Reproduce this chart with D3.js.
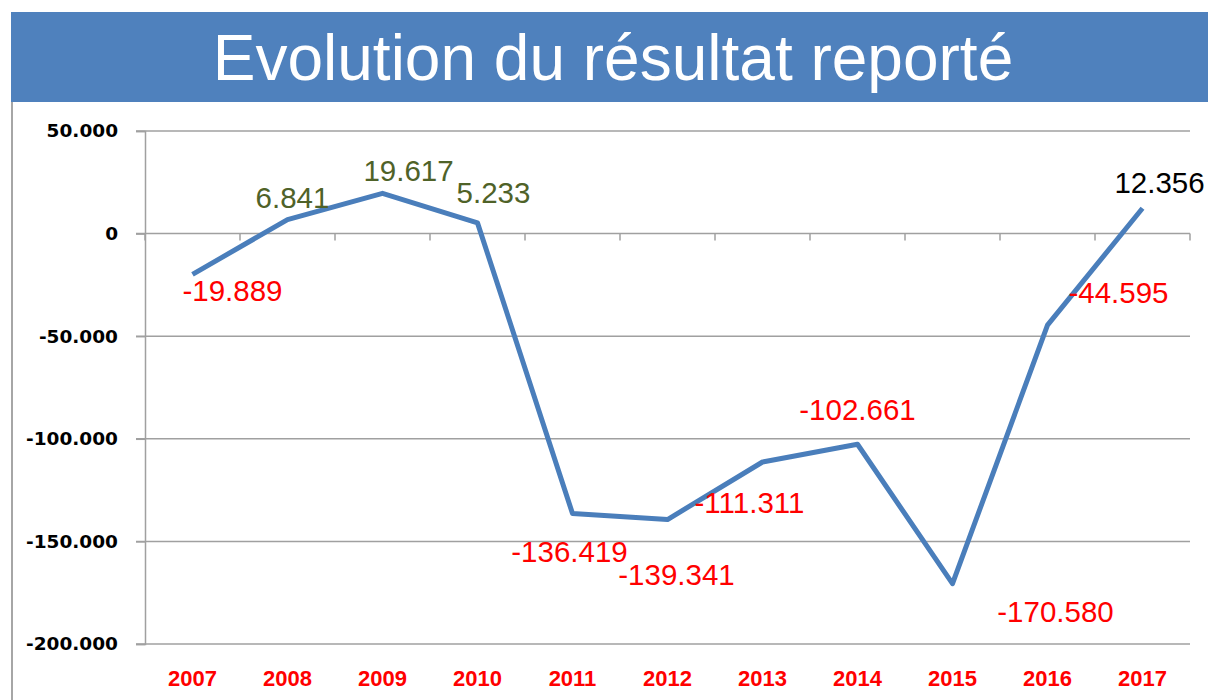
<!DOCTYPE html>
<html>
<head>
<meta charset="utf-8">
<script src="https://cdn.jsdelivr.net/npm/d3@7"></script>
<style>
  body { margin: 0; background: #fff; }
  svg { display: block; }
</style>
</head>
<body>
<div id="chart"></div>
<script>
// data
var years = ["2007", "2008", "2009", "2010", "2011", "2012", "2013", "2014", "2015", "2016", "2017"];
var values = [-19889, 6841, 19617, 5233, -136419, -139341, -111311, -102661, -170580, -44595, 12356];
var yTicks = [50000, 0, -50000, -100000, -150000, -200000];

// label placement relative to each point (layout only)
var labelOffsets = [[40, 27], [5, -12], [26, -12], [16, -20], [-3, 48], [9, 65],
                    [-13, 51], [0, -24], [103, 38], [71, -22], [17, -15]];

var W = 1208, H = 700;
var margin = {top: 131, right: 18, bottom: 56, left: 145};
var width = W - margin.left - margin.right,
    height = H - margin.top - margin.bottom;

var fr = d3.formatLocale({decimal: ",", thousands: ".", grouping: [3], currency: ["", "€"], minus: "-"});
var fmt = fr.format(",d");

var svg = d3.select("#chart").append("svg")
  .attr("width", W)
  .attr("height", H);

// title banner
svg.append("rect")
  .attr("x", 11).attr("y", 12)
  .attr("width", W - 11).attr("height", 90)
  .attr("fill", "#4f81bd");

svg.append("text")
  .attr("x", 613).attr("y", 80)
  .attr("text-anchor", "middle")
  .attr("fill", "#fff")
  .attr("font-family", "'Liberation Sans', Arial, sans-serif")
  .attr("font-size", 64)
  .text("Evolution du résultat reporté");

// left frame border
svg.append("line")
  .attr("x1", 12).attr("x2", 12)
  .attr("y1", 102).attr("y2", H)
  .attr("stroke", "#a6a6a6").attr("stroke-width", 2);

var g = svg.append("g").attr("transform", "translate(" + margin.left + "," + margin.top + ")");

var x = d3.scaleBand().domain(years).range([0, width]);
var y = d3.scaleLinear().domain([-200000, 50000]).range([height, 0]);

// grid lines
g.append("g")
  .selectAll("line")
  .data(yTicks.filter(function(d) { return d !== 0; }))
  .enter().append("line")
    .attr("x1", -9).attr("x2", width)
    .attr("y1", function(d) { return y(d); })
    .attr("y2", function(d) { return y(d); })
    .attr("stroke", "#a0a0a0").attr("stroke-width", 1.5);

// y axis
var yAxis = g.append("g")
  .call(d3.axisLeft(y).tickValues(yTicks).tickSize(9).tickPadding(18).tickFormat(fmt));
yAxis.select(".domain").attr("stroke", "#a0a0a0").attr("stroke-width", 1.5);
yAxis.selectAll(".tick line").attr("stroke", "#a0a0a0").attr("stroke-width", 1.5);
yAxis.selectAll(".tick text")
  .attr("fill", "#000")
  .attr("font-family", "'DejaVu Sans', Verdana, sans-serif")
  .attr("font-weight", "bold")
  .attr("font-size", 18.5);

// zero axis with category ticks
var zero = g.append("g").attr("transform", "translate(0," + y(0) + ")");
zero.append("line")
  .attr("x1", -9).attr("x2", width)
  .attr("stroke", "#a0a0a0").attr("stroke-width", 1.5);
zero.selectAll(".ctick")
  .data(years.concat(["end"]))
  .enter().append("line")
    .attr("class", "ctick")
    .attr("x1", function(d, i) { return i * x.step(); })
    .attr("x2", function(d, i) { return i * x.step(); })
    .attr("y1", 0).attr("y2", 7)
    .attr("stroke", "#a0a0a0").attr("stroke-width", 1.5);

// year labels along bottom
g.append("g")
  .selectAll("text")
  .data(years)
  .enter().append("text")
    .attr("x", function(d) { return x(d) + x.bandwidth() / 2; })
    .attr("y", height + 42)
    .attr("text-anchor", "middle")
    .attr("fill", "#ff0000")
    .attr("font-family", "'Liberation Sans', Arial, sans-serif")
    .attr("font-weight", "bold")
    .attr("font-size", 22)
    .text(function(d) { return d; });

// line
var line = d3.line()
  .x(function(d, i) { return x(years[i]) + x.bandwidth() / 2; })
  .y(function(d) { return y(d); });

g.append("path")
  .datum(values)
  .attr("d", line)
  .attr("fill", "none")
  .attr("stroke", "#4a7ebb")
  .attr("stroke-width", 5)
  .attr("stroke-linejoin", "round");

// data labels
g.append("g")
  .selectAll("text")
  .data(values)
  .enter().append("text")
    .attr("x", function(d, i) { return x(years[i]) + x.bandwidth() / 2 + labelOffsets[i][0]; })
    .attr("y", function(d, i) { return y(d) + labelOffsets[i][1]; })
    .attr("text-anchor", "middle")
    .attr("font-family", "'Liberation Sans', Arial, sans-serif")
    .attr("font-size", 29.5)
    .attr("fill", function(d, i) {
      if (i === values.length - 1) return "#000";
      return d < 0 ? "#ff0000" : "#4f6228";
    })
    .text(function(d) { return fmt(d); });
</script>
</body>
</html>
